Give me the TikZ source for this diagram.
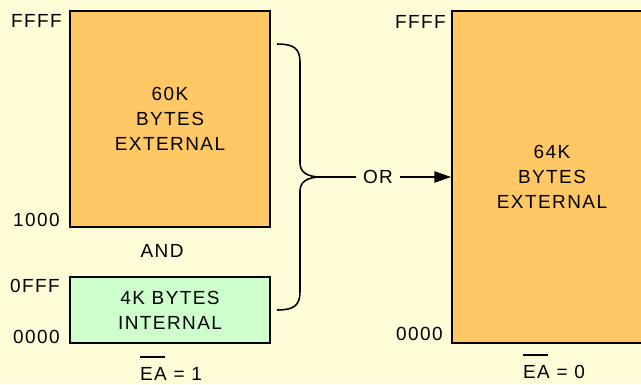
\documentclass[tikz,border=0pt]{standalone}
\usepackage{fontspec}
\setmainfont{Liberation Sans}[LetterSpace=7.5]
\usetikzlibrary{arrows.meta}
\definecolor{paper}{HTML}{FFFDD8}
\definecolor{extmem}{HTML}{FFC864}
\definecolor{intmem}{HTML}{CCFFCC}
\newsavebox{\sigbox}
\newcommand{\activelow}[1]{\sbox{\sigbox}{#1}\rlap{\raisebox{16pt}{\rule{\dimexpr\wd\sigbox-1pt\relax}{0.8pt}}}\usebox{\sigbox}}

\begin{document}
\begin{tikzpicture}
  [
    x = 0.025cm, y = -0.025cm,
    every node/.style = {font=\fontsize{13.5}{17.8}\selectfont, inner sep=0pt},
    membox/.style = {draw, line width=1.2pt, minimum width=5cm, align=center},
    addr/.style = {anchor=base east},
    link/.style = {line width=1.1pt}
  ]
  \useasboundingbox (0,0) rectangle (641,384);
  \clip (0,0) rectangle (641,384);
  \fill[paper] (0,0) rectangle (641,384);
  % memory blocks
  \node[membox, fill=extmem, minimum height=5.4cm]  (Ext60) at (170,119) {60K\\BYTES\\EXTERNAL};
  \node[membox, fill=intmem, minimum height=1.65cm] (Int4)  at (170,310) {4K BYTES\\INTERNAL};
  \node[membox, fill=extmem, minimum height=8.3cm]  (Ext64) at (552,177) {64K\\BYTES\\EXTERNAL};
  % addresses
  \node[addr] (HiA) at (62,27)   {FFFF};
  \node[addr] (LoA) at (60,226)  {1000};
  \node[addr] (HiB) at (60,292)  {0FFF};
  \node[addr] (LoB) at (60,343)  {0000};
  \node[addr] (HiC) at (446,28)  {FFFF};
  \node[addr] (LoC) at (443,340) {0000};
  \node[anchor=base] (And)  at (162,257) {AND};
  \node[anchor=base] (SelA) at (171,380) {\activelow{EA} = 1};
  \node[anchor=base] (SelB) at (554,378) {\activelow{EA} = 0};
  % brace and arrow
  \coordinate (Tip) at (321,177);
  \draw[link] (277,44) .. controls (293,44) and (300,48) .. (300,62)
    -- (300,163) .. controls (300,172) and (307,177) .. (Tip)
    .. controls (307,177) and (300,182) .. (300,191)
    -- (300,292) .. controls (300,306) and (293,310) .. (277,310);
  \node[inner xsep=5pt] (Or) at (378,177) {OR};
  \draw[link] (Tip) -- (Or.west);
  \draw[link, -{Triangle[length=12pt, width=8pt]}] (Or.east) -- (Ext64.west);
\end{tikzpicture}
\end{document}
